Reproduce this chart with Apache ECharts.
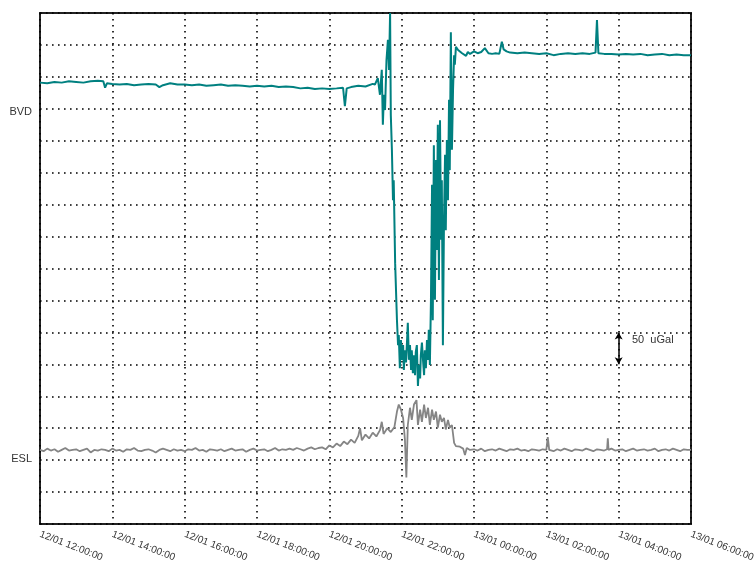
<!DOCTYPE html>
<html>
<head>
<meta charset="utf-8">
<script src="https://cdn.jsdelivr.net/npm/echarts@6/dist/echarts.min.js"></script>
<style>html,body{margin:0;padding:0;background:#fff}#c{width:755px;height:563px}</style>
</head>
<body>
<div id="c"></div>
<script>
// x: hours after 12/01 12:00:00 ; y: offset in uGal (one grid step = 50 uGal)
const xTickLabels = ['12/01 12:00:00','12/01 14:00:00','12/01 16:00:00','12/01 18:00:00','12/01 20:00:00','12/01 22:00:00','13/01 00:00:00','13/01 02:00:00','13/01 04:00:00','13/01 06:00:00'];
const seriesNames = ['BVD', 'ESL'];

const bvdPoints = [
 [0,691],[0.2,690],[0.4,692],[0.6,691],[0.8,693],[1.0,692],[1.2,691],[1.4,693],[1.6,694],[1.75,693],[1.8,683],[1.85,690],
 [2.0,689],[2.2,688],[2.4,689],[2.6,687],[2.8,688],[3.0,689],[3.2,688],[3.3,684],[3.4,687],[3.6,690],[3.8,688],
 [4.0,688],[4.2,687],[4.4,688],[4.6,686],[4.8,687],[5.0,688],[5.2,686],[5.4,687],[5.6,686],[5.8,685],
 [6.0,686],[6.2,685],[6.4,686],[6.6,684],[6.8,685],[7.0,684],[7.2,682],[7.4,683],[7.6,681],[7.8,682],
 [8.0,681],[8.2,682],[8.38,683],[8.43,654],[8.48,682],[8.6,684],[8.8,686],[9.0,685],[9.2,689],[9.26,688],
 [9.34,698],[9.40,672],[9.45,711],[9.48,625],[9.51,672],[9.54,648],[9.58,726],[9.62,758],[9.65,711],[9.68,800],
 [9.70,640],[9.73,586],[9.76,507],[9.78,538],[9.82,408],[9.87,319],[9.90,280],[9.92,296],[9.95,244],[9.98,288],
 [10.01,257],[10.04,280],[10.06,241],[10.09,272],[10.12,253],[10.15,288],[10.17,315],[10.20,257],[10.23,280],
 [10.26,241],[10.28,272],[10.31,236],[10.34,264],[10.37,233],[10.39,269],[10.42,280],[10.45,216],[10.48,249],
 [10.51,228],[10.53,264],[10.56,284],[10.59,257],[10.62,233],[10.64,272],[10.67,244],[10.70,288],[10.73,257],
 [10.75,304],[10.78,249],[10.81,351],[10.84,531],[10.86,319],[10.89,593],[10.92,351],[10.95,570],[10.97,429],
 [11.00,625],[11.03,382],[11.06,632],[11.09,445],[11.11,538],[11.14,280],[11.17,476],[11.20,578],[11.22,460],
 [11.25,601],[11.28,507],[11.31,664],[11.33,554],[11.36,770],[11.39,586],[11.42,679],[11.45,734],[11.47,719],
 [11.50,747],[11.56,742],[11.61,745],[11.67,737],[11.72,740],[11.78,733],[11.83,739],[11.89,736],
 [12.0,740],[12.1,737],[12.2,739],[12.3,745],[12.4,737],[12.5,736],[12.6,737],[12.7,736],[12.77,755],[12.82,743],
 [12.9,740],[13.0,738],[13.2,737],[13.4,738],[13.6,737],[13.8,736],[14.0,737],[14.2,734],[14.4,736],[14.6,737],
 [14.8,736],[15.0,737],[15.2,736],[15.36,738],[15.40,789],[15.44,737],[15.6,736],[15.8,736],[16.0,735],[16.2,736],
 [16.4,735],[16.6,736],[16.8,734],[17.0,735],[17.2,736],[17.4,734],[17.6,735],[17.8,734],[18.0,734]
];

const eslPoints = [
 [0,116],[0.1,114],[0.2,118],[0.3,115],[0.4,117],[0.5,113],[0.6,116],[0.7,119],[0.8,115],[0.9,116],
 [1.0,117],[1.1,114],[1.2,116],[1.3,118],[1.4,112],[1.5,116],[1.6,115],[1.7,117],[1.8,116],[1.9,114],
 [2.0,118],[2.1,115],[2.2,116],[2.3,113],[2.4,117],[2.5,116],[2.6,119],[2.7,115],[2.8,114],[2.9,116],
 [3.0,117],[3.1,115],[3.2,112],[3.3,116],[3.4,118],[3.5,116],[3.6,114],[3.7,117],[3.8,115],[3.9,116],
 [4.0,114],[4.1,117],[4.2,116],[4.3,119],[4.4,115],[4.5,116],[4.6,113],[4.7,117],[4.8,116],[4.9,115],
 [5.0,117],[5.1,114],[5.2,116],[5.3,118],[5.4,115],[5.5,116],[5.6,117],[5.7,113],[5.8,116],[5.9,118],
 [6.0,115],[6.1,116],[6.2,117],[6.3,114],[6.4,116],[6.5,119],[6.6,115],[6.7,117],[6.8,116],[6.9,118],
 [7.0,116],[7.1,119],[7.2,117],[7.3,115],[7.4,118],[7.5,120],[7.6,117],[7.7,119],
 [7.8,120],[7.9,117],[8.0,123],[8.1,120],[8.2,126],[8.3,122],[8.4,129],[8.5,125],[8.6,132],[8.7,127],
 [8.8,138],[8.85,150],[8.9,131],[9.0,140],[9.1,134],[9.2,143],[9.3,137],[9.4,147],[9.45,160],[9.5,141],
 [9.6,150],[9.7,144],[9.8,152],[9.87,176],[9.92,187],[9.98,179],[10.04,166],[10.09,132],[10.13,73],
 [10.17,155],[10.23,182],[10.28,163],[10.34,187],[10.41,194],[10.45,155],[10.51,179],[10.56,160],[10.62,187],
 [10.67,166],[10.73,182],[10.78,155],[10.84,179],[10.89,163],[10.95,176],[11.00,151],[11.06,171],[11.11,160],
 [11.17,166],[11.22,148],[11.28,163],[11.33,151],[11.39,155],[11.45,127],[11.50,122],[11.61,121],[11.70,118],
 [11.75,108],[11.80,119],[11.89,116],
 [12.0,117],[12.1,115],[12.2,118],[12.3,114],[12.4,116],[12.5,117],[12.6,115],[12.7,118],[12.8,116],[12.9,114],
 [13.0,117],[13.1,116],[13.2,118],[13.3,115],[13.4,116],[13.5,114],[13.6,117],[13.7,116],[13.8,115],[13.9,117],
 [14.0,116],[14.04,136],[14.08,116],[14.2,114],[14.3,117],[14.4,115],[14.5,118],[14.6,116],[14.7,114],[14.8,117],[14.9,116],
 [15.0,115],[15.1,118],[15.2,116],[15.3,114],[15.4,117],[15.5,116],[15.6,115],[15.68,117],[15.70,134],[15.72,116],[15.8,118],[15.9,115],
 [16.0,116],[16.1,117],[16.2,114],[16.3,116],[16.4,118],[16.5,115],[16.6,116],[16.7,117],[16.8,115],[16.9,116],
 [17.0,118],[17.1,114],[17.2,116],[17.3,117],[17.4,115],[17.5,118],[17.6,116],[17.7,114],[17.8,117],[17.9,116],[18.0,116]
];

// scale bar annotation: 50 uGal at hour 16
const scaleBar = { hour: 16, from: 300, to: 250, text: '50  uGal' };

const chart = echarts.init(document.getElementById('c'), null, { renderer: 'canvas' });
const dotted = { color: '#000', width: 1.6, type: [1.6, 4.4] };
chart.setOption({
  animation: false,
  backgroundColor: '#fff',
  grid: { left: 40, top: 13, right: 64, bottom: 39, outerBoundsMode: 'none', containLabel: false, show: true, borderColor: '#222', borderWidth: 2, backgroundColor: 'transparent' },
  xAxis: {
    type: 'value', min: 0, max: 18, interval: 2,
    axisLine: { show: false }, axisTick: { show: false },
    splitLine: { show: true, lineStyle: dotted },
    axisLabel: {
      show: true, rotate: -21, margin: 10, showMaxLabel: true, showMinLabel: true, hideOverlap: false,
      fontFamily: 'Liberation Sans, Arial, sans-serif', fontSize: 10, color: '#333',
      formatter: v => xTickLabels[Math.round(v / 2)] || ''
    }
  },
  yAxis: {
    type: 'value', min: 0, max: 800, interval: 50,
    axisLine: { show: false }, axisTick: { show: false }, axisLabel: { show: false },
    splitLine: { show: true, lineStyle: dotted }
  },
  series: [
    {
      name: seriesNames[0], type: 'line', data: bvdPoints, showSymbol: false, symbol: 'none',
      lineStyle: { color: '#008080', width: 2 }, z: 3,
      markLine: {
        silent: true, symbol: ['arrow', 'arrow'], symbolSize: [6, 7],
        lineStyle: { color: '#000', width: 1.5, type: 'solid' },
        label: { show: false },
        data: [[{ coord: [scaleBar.hour, scaleBar.from] }, { coord: [scaleBar.hour, scaleBar.to] }]]
      }
    },
    {
      name: seriesNames[1], type: 'line', data: eslPoints, showSymbol: false, symbol: 'none',
      lineStyle: { color: '#858585', width: 1.8 }, z: 2
    }
  ],
  graphic: [
    { type: 'text', right: 723, top: 106, style: { text: seriesNames[0], fontFamily: 'Liberation Sans, Arial, sans-serif', fontSize: 11, fill: '#333' } },
    { type: 'text', right: 723, top: 453, style: { text: seriesNames[1], fontFamily: 'Liberation Sans, Arial, sans-serif', fontSize: 11, fill: '#333' } },
    { type: 'text', left: 632, top: 334, style: { text: scaleBar.text, fontFamily: 'Liberation Sans, Arial, sans-serif', fontSize: 11, fill: '#333' } }
  ]
});
</script>
</body>
</html>
